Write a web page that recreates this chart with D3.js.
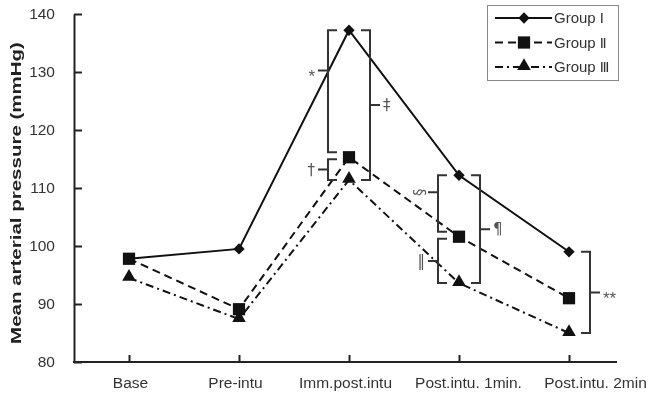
<!DOCTYPE html>
<html>
<head>
<meta charset="utf-8">
<script src="https://cdn.jsdelivr.net/npm/d3@7"></script>
<style>
  body { margin: 0; background: #fff; }
  svg { display: block; font-family: "Liberation Sans", Arial, sans-serif; }
</style>
</head>
<body>
<svg id="chart" width="650" height="393"></svg>
<script>
// data
var categories = ["Base", "Pre-intu", "Imm.post.intu", "Post.intu. 1min.", "Post.intu. 2min"];
var groupLabels = ["Group ", "Group ", "Group "];
var groupNumerals = ["\u2160", "\u2161", "\u2162"];
var group1 = [97.8, 99.5, 137.2, 112.2, 99.0];
var group2 = [97.8, 89.1, 115.3, 101.6, 91.0];
var group3 = [94.5, 87.4, 111.4, 93.6, 85.0];
var yTicks = [80, 90, 100, 110, 120, 130, 140];

// significance brackets: category, group index from/to, side, symbol
var brackets = [
  { cat: "Imm.post.intu", from: 0, to: 1, side: "left", mark: "*" },
  { cat: "Imm.post.intu", from: 1, to: 2, side: "left", mark: "\u2020" },
  { cat: "Imm.post.intu", from: 0, to: 2, side: "right", mark: "\u2021" },
  { cat: "Post.intu. 1min.", from: 0, to: 1, side: "left", mark: "\u00a7" },
  { cat: "Post.intu. 1min.", from: 1, to: 2, side: "left", mark: "\u2016" },
  { cat: "Post.intu. 1min.", from: 0, to: 2, side: "right", mark: "\u00b6" },
  { cat: "Post.intu. 2min", from: 0, to: 2, side: "right", mark: "**" }
];

var series = [group1, group2, group3];
var dashes = [null, "8,5", "8,4,2,4"];

var svg = d3.select("#chart");
// opacity layer keeps the small glyphs in plain grey antialiasing
var root = svg.append("g").attr("opacity", 0.999);
var ink = "#111";

var y = d3.scaleLinear().domain([80, 140]).range([362, 14]);
var x = d3.scalePoint().domain(categories).range([129, 569]);

// y axis
var gy = root.append("g")
  .attr("transform", "translate(74,0)")
  .call(d3.axisLeft(y).tickValues(yTicks).tickSizeInner(-8).tickSizeOuter(0).tickPadding(19));
gy.select(".domain").attr("stroke", "#222").attr("stroke-width", 2);
gy.selectAll(".tick line").attr("stroke", "#222").attr("stroke-width", 2);
gy.selectAll(".tick text").attr("font-size", 15.5).attr("fill", "#333")
  .attr("font-family", "Liberation Sans, Arial, sans-serif");

// x axis
var labelShift = [1, -4, -4, 9, 26];
var gx = root.append("g")
  .attr("transform", "translate(0,362)")
  .call(d3.axisBottom(x).tickSizeInner(-7).tickSizeOuter(0).tickPadding(15));
gx.select(".domain").remove();
gx.selectAll(".tick line").attr("stroke", "#222").attr("stroke-width", 2);
gx.selectAll(".tick text").attr("font-size", 15.5).attr("fill", "#333")
  .attr("font-family", "Liberation Sans, Arial, sans-serif")
  .attr("dx", function(d, i) { return labelShift[i]; });
root.append("line")
  .attr("x1", 73).attr("x2", 617)
  .attr("y1", y(80)).attr("y2", y(80))
  .attr("stroke", "#222").attr("stroke-width", 2);

// y title
root.append("text")
  .attr("transform", "translate(21," + ((y(80) + y(140)) / 2 + 5) + ") rotate(-90) scale(1,0.72)")
  .attr("text-anchor", "middle")
  .attr("font-size", 20.5)
  .attr("font-weight", "bold")
  .attr("fill", "#222")
  .text("Mean arterial pressure (mmHg)");

// markers
function marker(g, i) {
  if (i === 0) {
    g.append("path").attr("d", d3.symbol(d3.symbolSquare, 64)()).attr("transform", "rotate(45)");
  } else if (i === 1) {
    g.append("path").attr("d", d3.symbol(d3.symbolSquare, 150)());
  } else {
    g.append("path").attr("d", d3.symbol(d3.symbolTriangle, 80)()).attr("transform", "translate(0,-1)");
  }
  g.selectAll("path").attr("fill", ink);
}

var line = d3.line()
  .x(function(d, i) { return x(categories[i]); })
  .y(function(d) { return y(d); });

series.forEach(function(s, i) {
  root.append("path")
    .datum(s)
    .attr("d", line)
    .attr("fill", "none")
    .attr("stroke", ink)
    .attr("stroke-width", 2)
    .attr("stroke-dasharray", dashes[i]);
});

// draw markers in reverse so group I sits under squares at base
[2, 1, 0].forEach(function(i) {
  series[i].forEach(function(v, j) {
    var g = root.append("g").attr("transform", "translate(" + x(categories[j]) + "," + y(v) + ")");
    marker(g, i);
  });
});

// brackets
var tickFrac = { "*": 0.33, "\u00a7": 0.3 };
brackets.forEach(function(b) {
  var px = x(b.cat);
  var dir = b.side === "left" ? -1 : 1;
  var bx = px + dir * 21;
  var top = y(series[b.from][categories.indexOf(b.cat)]);
  var bot = y(series[b.to][categories.indexOf(b.cat)]);
  // leave a gap where two brackets on the same side meet
  brackets.forEach(function(o) {
    if (o === b || o.cat !== b.cat || o.side !== b.side) return;
    if (o.from === b.to) bot -= 5;
    if (o.to === b.from) top += 2;
  });
  var f = tickFrac[b.mark] || 0.5;
  var ty = top + (bot - top) * f;
  var path = d3.path();
  path.moveTo(bx - dir * 9, top);
  path.lineTo(bx, top);
  path.lineTo(bx, bot);
  path.lineTo(bx - dir * 9, bot);
  path.moveTo(bx, ty);
  path.lineTo(bx + dir * 10, ty);
  root.append("path")
    .attr("d", path.toString())
    .attr("fill", "none")
    .attr("stroke", "#333")
    .attr("stroke-width", 2);
  var star = b.mark.indexOf("*") === 0;
  var t = root.append("text")
    .attr("x", bx + dir * 13)
    .attr("y", ty)
    .attr("dy", star ? "0.7em" : "0.35em")
    .attr("text-anchor", b.side === "left" ? "end" : "start")
    .attr("font-family", star ? "Liberation Sans, Arial, sans-serif" : "DejaVu Sans, sans-serif")
    .attr("font-size", star ? 17 : 15)
    .attr("fill", "#555")
    .text(b.mark);
  if (b.mark === "\u00a7") {
    t.attr("text-anchor", "middle").attr("dy", null)
      .attr("transform", "rotate(-90," + (bx - 17) + "," + ty + ")")
      .attr("x", bx - 17).attr("y", ty + 4);
  }
});

// legend
var lg = root.append("g");
lg.append("rect")
  .attr("x", 487.5).attr("y", 5.5)
  .attr("width", 131).attr("height", 75)
  .attr("fill", "#fff")
  .attr("stroke", "#888");
groupLabels.forEach(function(name, i) {
  var ly = 18 + i * 24.5;
  lg.append("line")
    .attr("x1", 495).attr("x2", 552)
    .attr("y1", ly).attr("y2", ly)
    .attr("stroke", ink).attr("stroke-width", 2)
    .attr("stroke-dasharray", dashes[i]);
  var g = lg.append("g").attr("transform", "translate(524," + ly + ")");
  marker(g, i);
  var t = lg.append("text")
    .attr("x", 554).attr("y", ly)
    .attr("dy", "0.36em")
    .attr("font-size", 15)
    .attr("fill", "#333")
    .text(name);
  t.append("tspan")
    .attr("font-family", "DejaVu Sans, sans-serif")
    .attr("font-size", 14)
    .text(groupNumerals[i]);
});
</script>
</body>
</html>
